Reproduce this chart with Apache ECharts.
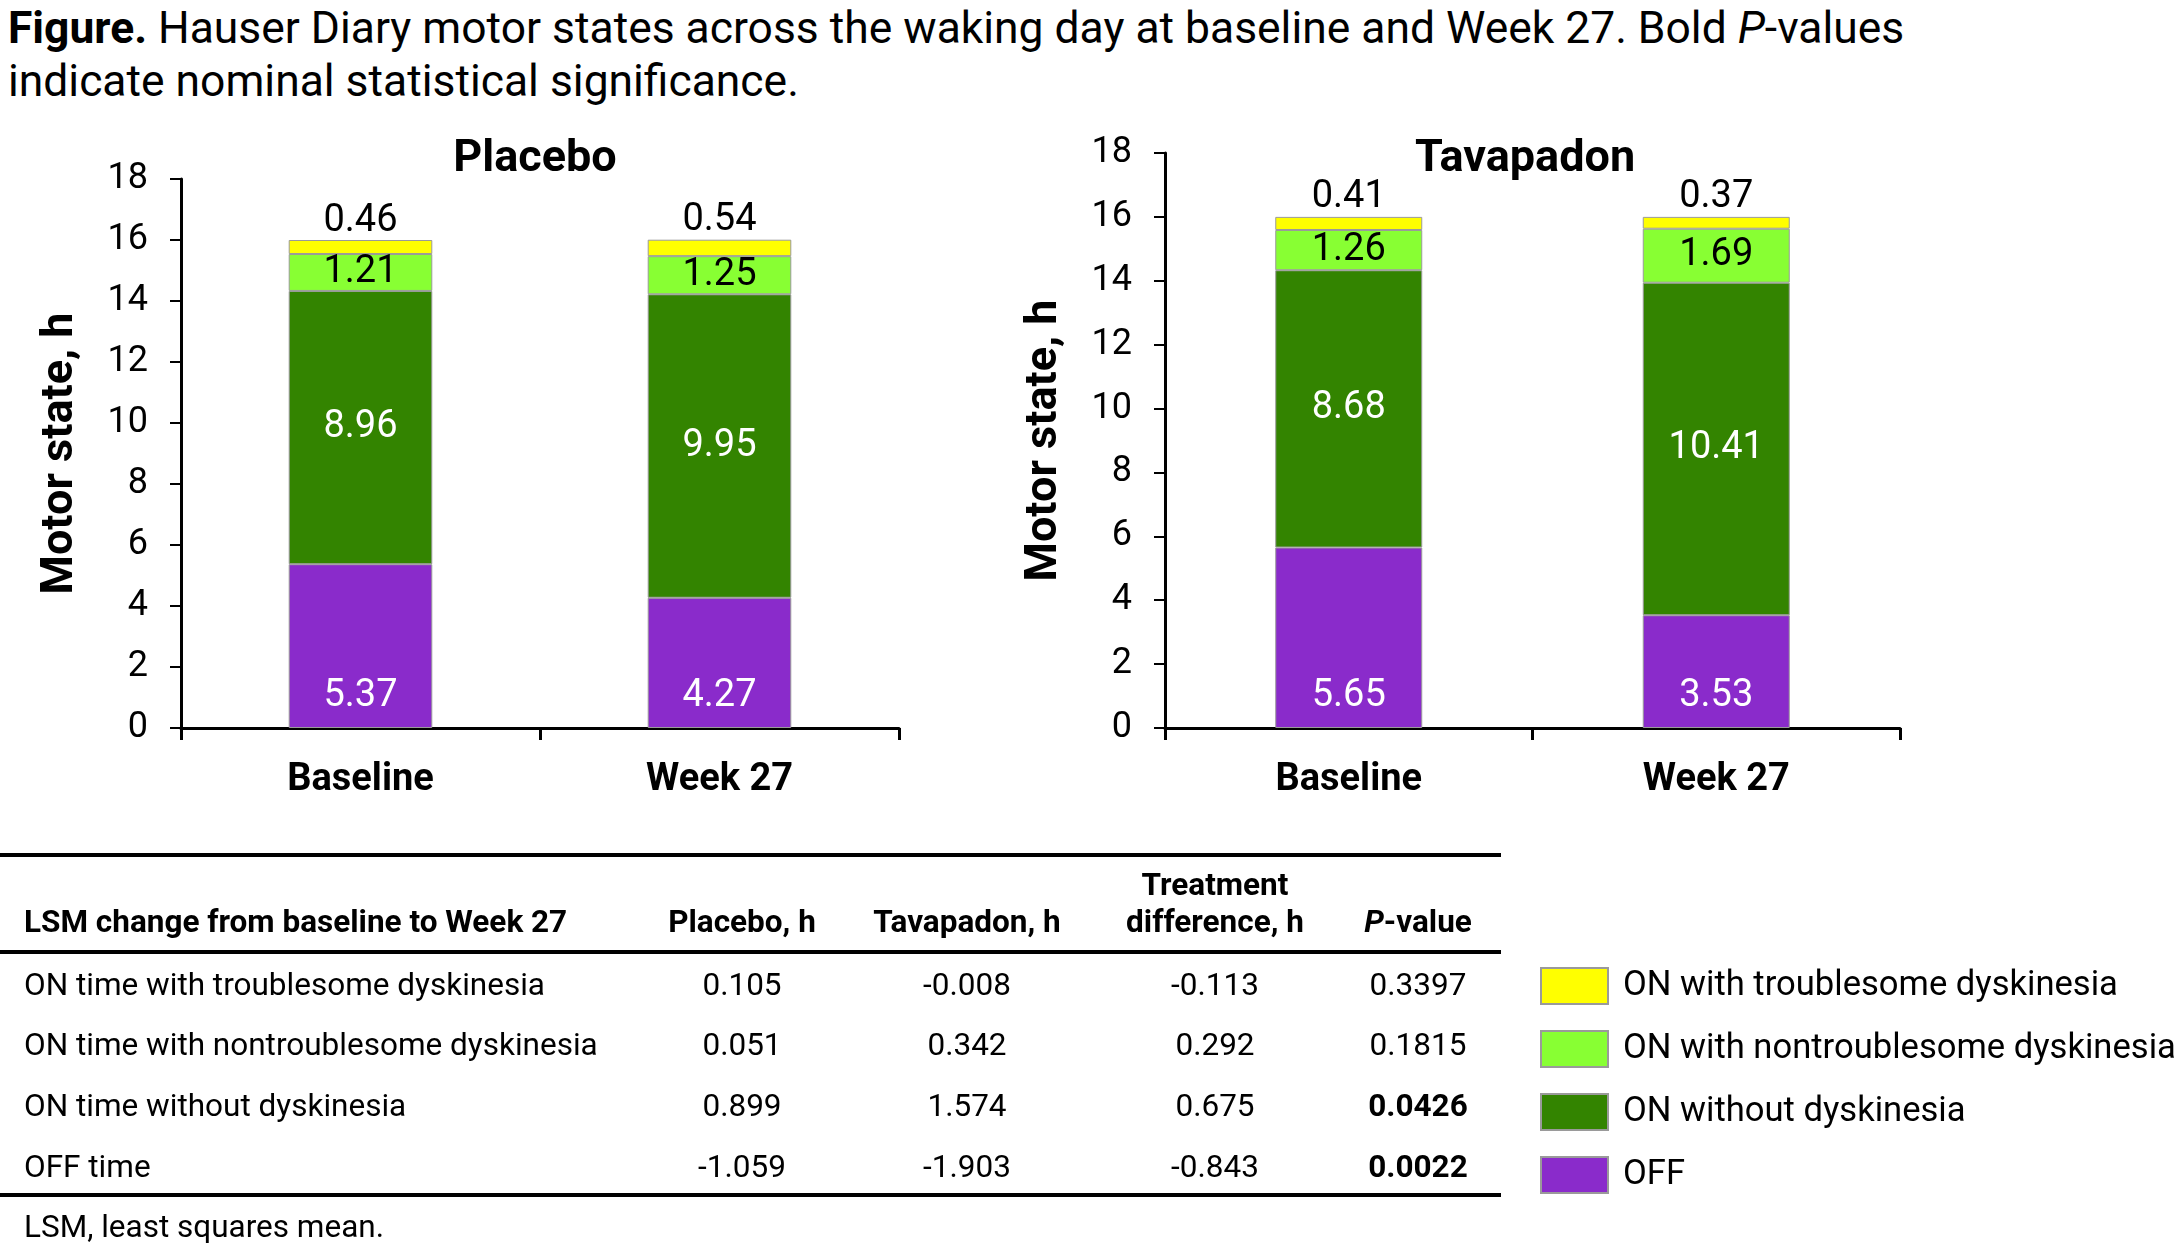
<!DOCTYPE html>
<html>
<head>
<meta charset="utf-8">
<script src="https://cdn.jsdelivr.net/npm/echarts@6/dist/echarts.min.js"></script>
<style>
  html, body { margin:0; padding:0; background:#fff; }
  body { width:2179px; height:1256px; position:relative; overflow:hidden; font-family: Roboto, "Noto Sans", sans-serif; color:#000; }
  #chart { position:absolute; left:0; top:0; width:2179px; height:1256px; }
  .cap { position:absolute; left:8px; top:2px; font-size:44.4px; line-height:53px; white-space:nowrap; }
  .t { position:absolute; white-space:nowrap; transform:translate(-50%,-50%); font-size:31.5px; }
  .tl { position:absolute; white-space:nowrap; transform:translate(0,-50%); font-size:31.5px; }
  .b { font-weight:bold; }
  .rule { position:absolute; left:0; width:1501px; height:4px; background:#000; }
</style>
</head>
<body>
<div class="cap"><b>Figure.</b> Hauser Diary motor states across the waking day at baseline and Week 27. Bold <i>P</i>-values<br>indicate nominal statistical significance.</div>
<div id="chart"></div>
<div id="table"></div>
<script>
// ---- data ----
const categories = ['Baseline', 'Week 27'];
const panelTitles = ['Placebo', 'Tavapadon'];
const seriesNames = ['OFF', 'ON without dyskinesia', 'ON with nontroublesome dyskinesia', 'ON with troublesome dyskinesia'];
const seriesColors = ['#8A2BCB', '#338400', '#88FF33', '#FFFF00'];
const placeboOff = [5.37, 4.27];
const placeboOnWithout = [8.96, 9.95];
const placeboOnNontroublesome = [1.21, 1.25];
const placeboOnTroublesome = [0.46, 0.54];
const tavapadonOff = [5.65, 3.53];
const tavapadonOnWithout = [8.68, 10.41];
const tavapadonOnNontroublesome = [1.26, 1.69];
const tavapadonOnTroublesome = [0.41, 0.37];
const yTicks = [0, 2, 4, 6, 8, 10, 12, 14, 16, 18];

// table data
const tableHeader = ['LSM change from baseline to Week 27', 'Placebo, h', 'Tavapadon, h', 'Treatment difference, h', 'P-value'];
const rowLabels = ['ON time with troublesome dyskinesia', 'ON time with nontroublesome dyskinesia', 'ON time without dyskinesia', 'OFF time'];
const placeboChange = ['0.105', '0.051', '0.899', '-1.059'];
const tavapadonChange = ['-0.008', '0.342', '1.574', '-1.903'];
const treatmentDiff = ['-0.113', '0.292', '0.675', '-0.843'];
const pValues = ['0.3397', '0.1815', '0.0426', '0.0022'];
const pBold = [false, false, true, true];

// ---- chart ----
const chart = echarts.init(document.getElementById('chart'), null, {renderer: 'canvas'});
const panels = [
  {data: [placeboOff, placeboOnWithout, placeboOnNontroublesome, placeboOnTroublesome], grid: {left: 181, top: 179, width: 718, height: 549}, titleX: 535, titleY: 160},
  {data: [tavapadonOff, tavapadonOnWithout, tavapadonOnNontroublesome, tavapadonOnTroublesome], grid: {left: 1165, top: 153, width: 735, height: 575}, titleX: 1525, titleY: 160}
];
const FONT = 'Roboto';
const labelCfg = [
  {position: 'insideBottom', distance: 13, color: '#fff'},
  {position: 'inside', color: '#fff'},
  {position: 'inside', color: '#000'},
  {position: 'top', distance: 0, color: '#000'}
];
const grids = [], xAxes = [], yAxes = [], series = [], graphics = [];
panels.forEach((p, i) => {
  grids.push(p.grid);
  xAxes.push({
    type: 'category', gridIndex: i, data: categories,
    axisLine: {lineStyle: {color: '#000', width: 3}},
    axisTick: {show: true, length: 12, lineStyle: {color: '#000', width: 3}},
    axisLabel: {fontFamily: FONT, fontSize: 38, fontWeight: 'bold', color: '#000', margin: 33}
  });
  yAxes.push({
    type: 'value', gridIndex: i, min: yTicks[0], max: yTicks[yTicks.length - 1], interval: yTicks[1] - yTicks[0],
    name: 'Motor state, h', nameLocation: 'middle', nameRotate: 90, nameGap: 98,
    nameTextStyle: {fontFamily: FONT, fontSize: 45, fontWeight: 'bold', color: '#000'},
    axisLine: {show: true, lineStyle: {color: '#000', width: 3}},
    axisTick: {show: true, length: 11, lineStyle: {color: '#000', width: 2}},
    axisLabel: {fontFamily: FONT, fontSize: 36, color: '#000', margin: 33},
    splitLine: {show: false}
  });
  p.data.forEach((vals, k) => {
    series.push({
      type: 'bar', name: seriesNames[k], stack: 'panel' + i, xAxisIndex: i, yAxisIndex: i,
      barWidth: '40%', data: vals,
      itemStyle: {color: seriesColors[k], borderColor: '#9a9a9a', borderWidth: 1},
      label: Object.assign({show: true, fontFamily: FONT, fontSize: 38, formatter: (d) => d.value.toFixed(2)}, labelCfg[k]),
      emphasis: {disabled: true}
    });
  });
  graphics.push({
    type: 'text', x: p.titleX, y: p.titleY,
    style: {text: panelTitles[i], font: 'bold 45px Roboto', fill: '#000', textAlign: 'center', textVerticalAlign: 'middle'}
  });
});
chart.setOption({
  animation: false,
  grid: grids, xAxis: xAxes, yAxis: yAxes, series: series, graphic: graphics,
  legend: {
    orient: 'vertical', left: 1540, top: 967, padding: 0,
    data: seriesNames.slice().reverse(),
    icon: 'rect', itemWidth: 67, itemHeight: 36, itemGap: 25,
    selectedMode: false,
    textStyle: {fontFamily: FONT, fontSize: 34.6, color: '#000', lineHeight: 36, padding: [0, 0, 0, 10]}
  }
});

// ---- table (HTML text) ----
const tbl = document.getElementById('table');
const colX = [742, 967, 1215, 1418];
function add(cls, x, y, html) {
  const d = document.createElement('div');
  d.className = cls; d.style.left = x + 'px'; d.style.top = y + 'px'; d.innerHTML = html;
  tbl.appendChild(d);
}
[853, 950, 1193].forEach(y => { const r = document.createElement('div'); r.className = 'rule'; r.style.top = y + 'px'; tbl.appendChild(r); });
add('tl b', 24, 921, tableHeader[0]);
add('t b', colX[0], 921, tableHeader[1]);
add('t b', colX[1], 921, tableHeader[2]);
add('t b', colX[2], 884, 'Treatment');
add('t b', colX[2], 921, 'difference, h');
add('t b', colX[3], 921, '<i>P</i>-value');
const rowY = [984, 1044, 1105, 1166];
rowLabels.forEach((lab, r) => {
  add('tl', 24, rowY[r], lab);
  add('t', colX[0], rowY[r], placeboChange[r]);
  add('t', colX[1], rowY[r], tavapadonChange[r]);
  add('t', colX[2], rowY[r], treatmentDiff[r]);
  add('t' + (pBold[r] ? ' b' : ''), colX[3], rowY[r], pValues[r]);
});
add('tl', 24, 1226, 'LSM, least squares mean.');
</script>
</body>
</html>
